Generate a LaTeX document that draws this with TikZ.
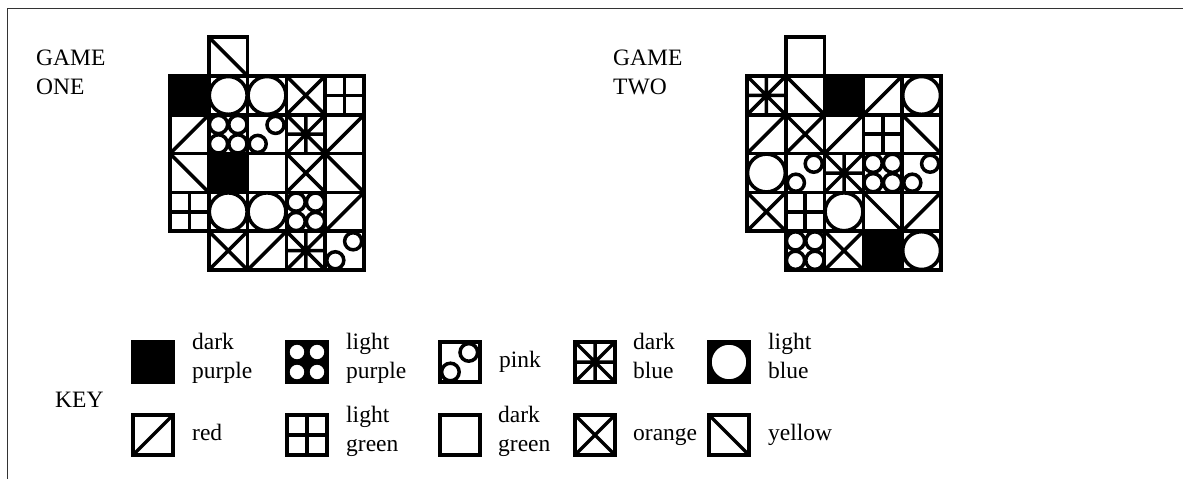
\documentclass[tikz,border=0pt]{standalone}
\usepackage{fontspec}
\setmainfont{Liberation Serif}
\def\csz{38.8}
\tikzset{
  cellline/.style={line width=3.5pt},
  frameline/.style={line width=1.3pt, black!80},
  lbl/.style={font=\fontsize{23.5}{29}\selectfont, anchor=base west, inner sep=0pt, align=left},
  dpurple/.pic={\fill[black] (0,0) rectangle (\csz,\csz); \draw[cellline] (0,0) rectangle (\csz,\csz);},
  lpurple/.pic={\draw[cellline] (0,0) rectangle (\csz,\csz);
    \foreach \a in {0.25,0.75}{\foreach \b in {0.25,0.75}{\draw[cellline] (\a*\csz,\b*\csz) circle[radius=0.25*\csz-0.6];}}},
  lpurplekey/.pic={\fill[black] (0,0) rectangle (\csz,\csz); \draw[cellline] (0,0) rectangle (\csz,\csz);
    \foreach \a in {0.25,0.75}{\foreach \b in {0.25,0.75}{\draw[cellline,fill=white] (\a*\csz,\b*\csz) circle[radius=0.25*\csz-0.9];}}},
  pink/.pic={\draw[cellline] (0,0) rectangle (\csz,\csz);
    \draw[cellline] (0.72*\csz,0.26*\csz) circle[radius=0.22*\csz];
    \draw[cellline] (0.26*\csz,0.75*\csz) circle[radius=0.22*\csz];},
  dblue/.pic={\draw[cellline] (0,0) rectangle (\csz,\csz);
    \draw[cellline] (0,0) -- (\csz,\csz) (0,\csz) -- (\csz,0) (\csz/2,0) -- (\csz/2,\csz) (0,\csz/2) -- (\csz,\csz/2);},
  lblue/.pic={\draw[cellline] (0,0) rectangle (\csz,\csz); \draw[cellline] (\csz/2,\csz/2) circle[radius=\csz/2-0.5];},
  lbluekey/.pic={\fill[black] (0,0) rectangle (\csz,\csz); \draw[cellline] (0,0) rectangle (\csz,\csz);
    \draw[cellline,fill=white] (\csz/2,\csz/2) circle[radius=\csz/2-1];},
  red/.pic={\draw[cellline] (0,0) rectangle (\csz,\csz); \draw[cellline] (0,\csz) -- (\csz,0);},
  lgreen/.pic={\draw[cellline] (0,0) rectangle (\csz,\csz);
    \draw[cellline] (\csz/2,0) -- (\csz/2,\csz) (0,\csz/2) -- (\csz,\csz/2);},
  dgreen/.pic={\draw[cellline] (0,0) rectangle (\csz,\csz);},
  orange/.pic={\draw[cellline] (0,0) rectangle (\csz,\csz); \draw[cellline] (0,0) -- (\csz,\csz) (0,\csz) -- (\csz,0);},
  yellow/.pic={\draw[cellline] (0,0) rectangle (\csz,\csz); \draw[cellline] (0,0) -- (\csz,\csz);},
}
\newcommand\gcell[3]{\pic at ({\gx+#1*\csz},{\gy+#2*\csz}) {#3};}
\begin{document}
\begin{tikzpicture}[x=1pt,y=-1pt,line join=miter]
\useasboundingbox (0,0) rectangle (1183,479);
\fill[white] (0,0) rectangle (1183,479);
% frame
\coordinate (fbl) at (7.5,479);
\coordinate (ftl) at (7.5,8.5);
\coordinate (ftr) at (1183,8.5);
\draw[frameline] (fbl) -- (ftl) -- (ftr);

% ---------- GAME ONE ----------
\node[lbl] (g1) at (36,94.5) {GAME\\ONE};
\def\gx{170}\def\gy{76}
\gcell{1}{-1}{yellow}
\gcell{0}{0}{dpurple}\gcell{1}{0}{lblue}\gcell{2}{0}{lblue}\gcell{3}{0}{orange}\gcell{4}{0}{lgreen}
\gcell{0}{1}{red}\gcell{1}{1}{lpurple}\gcell{2}{1}{pink}\gcell{3}{1}{dblue}\gcell{4}{1}{red}
\gcell{0}{2}{yellow}\gcell{1}{2}{dpurple}\gcell{2}{2}{dgreen}\gcell{3}{2}{orange}\gcell{4}{2}{yellow}
\gcell{0}{3}{lgreen}\gcell{1}{3}{lblue}\gcell{2}{3}{lblue}\gcell{3}{3}{lpurple}\gcell{4}{3}{red}
\gcell{1}{4}{orange}\gcell{2}{4}{red}\gcell{3}{4}{dblue}\gcell{4}{4}{pink}

% ---------- GAME TWO ----------
\node[lbl] (g2) at (613,94) {GAME\\TWO};
\def\gx{747}\def\gy{76}
\gcell{1}{-1}{dgreen}
\gcell{0}{0}{dblue}\gcell{1}{0}{yellow}\gcell{2}{0}{dpurple}\gcell{3}{0}{red}\gcell{4}{0}{lblue}
\gcell{0}{1}{red}\gcell{1}{1}{orange}\gcell{2}{1}{red}\gcell{3}{1}{lgreen}\gcell{4}{1}{yellow}
\gcell{0}{2}{lblue}\gcell{1}{2}{pink}\gcell{2}{2}{dblue}\gcell{3}{2}{lpurple}\gcell{4}{2}{pink}
\gcell{0}{3}{orange}\gcell{1}{3}{lgreen}\gcell{2}{3}{lblue}\gcell{3}{3}{yellow}\gcell{4}{3}{red}
\gcell{1}{4}{lpurple}\gcell{2}{4}{orange}\gcell{3}{4}{dpurple}\gcell{4}{4}{lblue}

% ---------- KEY ----------
\def\csz{40}
\node[lbl] (key) at (55,407) {KEY};
\pic at (133,342) {dpurple};
\pic at (287,342) {lpurplekey};
\pic at (440,342) {pink};
\pic at (575,342) {dblue};
\pic at (709,342) {lbluekey};
\pic at (133,415) {red};
\pic at (287,415) {lgreen};
\pic at (440,415) {dgreen};
\pic at (575,415) {orange};
\pic at (709,415) {yellow};
\node[lbl] (kdp) at (192,378) {dark\\purple};
\node[lbl] (klp) at (346,378) {light\\purple};
\node[lbl] (kpk) at (499,367) {pink};
\node[lbl] (kdb) at (633,378.5) {dark\\blue};
\node[lbl] (klb) at (768,378.5) {light\\blue};
\node[lbl] (krd) at (192,440) {red};
\node[lbl] (klg) at (346,451) {light\\green};
\node[lbl] (kdg) at (498,451) {dark\\green};
\node[lbl] (kor) at (633,440) {orange};
\node[lbl] (kyl) at (768,440) {yellow};
\end{tikzpicture}
\end{document}
